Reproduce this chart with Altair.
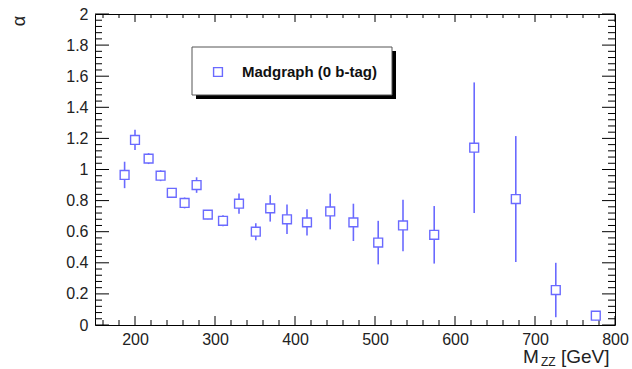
import altair as alt
import pandas as pd

# ---- data ----
mass = [187, 200, 217, 232, 246, 262, 277, 291, 310, 330, 351, 369, 390, 415,
        444, 473, 504, 535, 574, 624, 676, 726, 776]
alpha = [0.965, 1.19, 1.07, 0.96, 0.85, 0.785, 0.90, 0.71, 0.67, 0.78, 0.60,
         0.75, 0.68, 0.66, 0.73, 0.66, 0.53, 0.64, 0.58, 1.14, 0.81, 0.225, 0.06]
err = [0.085, 0.065, 0.035, 0.035, 0.03, 0.035, 0.05, 0.03, 0.035, 0.065, 0.055,
       0.085, 0.095, 0.085, 0.115, 0.12, 0.14, 0.165, 0.185, 0.42, 0.405, 0.175, 0.03]
legend_label = "Madgraph (0 b-tag)"

x_major = [200, 300, 400, 500, 600, 700, 800]
x_minor = [v for v in range(160, 800, 20) if v % 100 != 0]
y_major = [round(i * 0.2, 2) for i in range(11)]
y_minor = [round(i * 0.04, 2) for i in range(51) if i % 5 != 0]

COL = "#6a6aff"
FONT = "Liberation Sans"

df = pd.DataFrame({"m": mass, "a": alpha, "lo": [a - e for a, e in zip(alpha, err)],
                   "hi": [a + e for a, e in zip(alpha, err)]})

xs = alt.Scale(domain=[150, 800], nice=False, zero=False)
ys = alt.Scale(domain=[0, 2], nice=False, zero=False)

W, H = 520, 311

xaxis = alt.Axis(values=x_major, ticks=False, domain=False, grid=False,
                 labelFont=FONT, labelFontSize=16, labelColor="#222",
                 labelPadding=6, title=None, labelOverlap=False, labelFlush=False)
yaxis = alt.Axis(values=y_major, ticks=False, domain=False, grid=False,
                 labelFont=FONT, labelFontSize=16, labelColor="#222",
                 labelPadding=7, title=None, format=".1~f", labelOverlap=False,
                 labelFlush=False)

base = alt.Chart(df)
errbars = base.mark_rule(color=COL, strokeWidth=1.6).encode(
    x=alt.X("m:Q", scale=xs, axis=xaxis),
    y=alt.Y("lo:Q", scale=ys, axis=yaxis),
    y2="hi:Q",
)
points = base.mark_point(shape="square", size=78, filled=False, fill="white",
                         fillOpacity=1, color=COL, strokeWidth=1.4, opacity=1).encode(
    x=alt.X("m:Q", scale=xs, axis=xaxis), y=alt.Y("a:Q", scale=ys, axis=yaxis))


def tick_layer(vals, field_ch, a, b):
    d = alt.Chart(pd.DataFrame({"v": vals}))
    if field_ch == "y":
        return d.mark_rule(color="black", strokeWidth=1).encode(
            y=alt.Y("v:Q", scale=ys, axis=yaxis), x=alt.value(a), x2=alt.value(b))
    return d.mark_rule(color="black", strokeWidth=1).encode(
        x=alt.X("v:Q", scale=xs, axis=xaxis), y=alt.value(a), y2=alt.value(b))


ticks = [
    tick_layer(y_major, "y", 0, 14), tick_layer(y_minor, "y", 0, 7),
    tick_layer(y_major, "y", W, W - 13), tick_layer(y_minor, "y", W, W - 7),
    tick_layer(x_major, "x", H, H - 9), tick_layer(x_minor, "x", H, H - 5),
    tick_layer(x_major, "x", 0, 8), tick_layer(x_minor, "x", 0, 4),
]

one = alt.Chart(pd.DataFrame({"t": [legend_label]}))
shadow = one.mark_rect(color="black").encode(
    x=alt.value(101), x2=alt.value(301), y=alt.value(37), y2=alt.value(85))
box = one.mark_rect(fill="white", stroke="#555", strokeWidth=1).encode(
    x=alt.value(97), x2=alt.value(297), y=alt.value(33), y2=alt.value(81))
leg_mark = one.mark_point(shape="square", size=78, filled=False, color=COL,
                          strokeWidth=1.4, opacity=1).encode(
    x=alt.value(123), y=alt.value(58))
leg_text = one.mark_text(font=FONT, fontSize=15, fontWeight="bold", align="left",
                         baseline="middle", color="#111").encode(
    x=alt.value(147), y=alt.value(58), text="t:N")

ytitle = alt.Chart(pd.DataFrame({"t": ["α"]})).mark_text(
    font=FONT, fontSize=18, angle=270, align="center", baseline="middle",
    color="#222").encode(x=alt.value(-75), y=alt.value(7), text="t:N")
xt_m = alt.Chart(pd.DataFrame({"t": ["M"]})).mark_text(
    font=FONT, fontSize=19, align="left", baseline="alphabetic", color="#222").encode(
    x=alt.value(428), y=alt.value(349), text="t:N")
xt_zz = alt.Chart(pd.DataFrame({"t": ["ZZ"]})).mark_text(
    font=FONT, fontSize=12, align="left", baseline="alphabetic", color="#222").encode(
    x=alt.value(446), y=alt.value(352), text="t:N")
xt_gev = alt.Chart(pd.DataFrame({"t": ["[GeV]"]})).mark_text(
    font=FONT, fontSize=19, align="left", baseline="alphabetic", color="#222").encode(
    x=alt.value(466), y=alt.value(349), text="t:N")

chart = alt.layer(
    errbars, *ticks, points, shadow, box, leg_mark, leg_text, ytitle, xt_m, xt_zz, xt_gev
).properties(
    width=W, height=H,
    autosize=alt.AutoSizeParams(type="none"),
    padding={"left": 95, "top": 14, "right": 17, "bottom": 44},
    background="white",
).configure_view(stroke="black", strokeWidth=1)

chart.save("out.html", embed_options={"renderer": "svg", "actions": False})
